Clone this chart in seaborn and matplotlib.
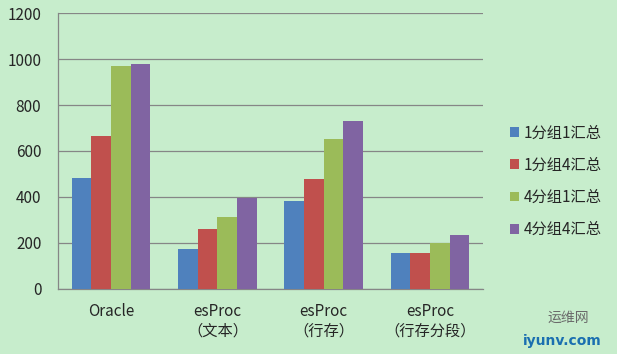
import pandas as pd
import seaborn as sns
from matplotlib import pyplot as plt

# data
categories = ["Oracle", "esProc\n（文本）", "esProc\n（行存）", "esProc\n（行存分段）"]
series = ["1分组1汇总", "1分组4汇总", "4分组1汇总", "4分组4汇总"]
vals_1g1s = [483, 174, 383, 157]
vals_1g4s = [665, 261, 478, 157]
vals_4g1s = [970, 313, 652, 199]
vals_4g4s = [978, 397, 730, 235]

colors = ["#4F81BD", "#C0504D", "#9BBB59", "#8064A2"]
bg = "#C7EDCC"

sns.set_style("white")
plt.rcParams['font.family'] = ['Noto Sans CJK SC', 'DejaVu Sans']

rows = []
for s, v in zip(series, [vals_1g1s, vals_1g4s, vals_4g1s, vals_4g4s]):
  for c, y in zip(categories, v):
    rows.append({"cat": c, "series": s, "value": y})
df = pd.DataFrame(rows)

fig = plt.figure(figsize=(6.17, 3.54), dpi=100, facecolor=bg)
ax = fig.add_axes([0.094, 0.184, 0.689, 0.779])
ax.set_facecolor(bg)

sns.barplot(data=df, x="cat", y="value", hue="series", palette=colors,
            width=0.74, saturation=1, linewidth=0, edgecolor="none",
            ax=ax, zorder=3)

ax.set_ylim(0, 1200)
ax.set_xlim(-0.5, 3.5)
ax.set_yticks(range(0, 1201, 200))
ax.yaxis.grid(True, color="#868686", linewidth=0.9, zorder=0)
ax.set_axisbelow(True)
ax.set(xlabel="", ylabel="")

for side in ["top", "right"]:
  ax.spines[side].set_visible(False)
for side in ["left", "bottom"]:
  ax.spines[side].set_color("#868686")
  ax.spines[side].set_linewidth(0.9)

ax.tick_params(axis="y", length=0, labelsize=11, pad=12)
ax.tick_params(axis="x", length=0, labelsize=11, pad=10)
ax.set_xticks([-0.5, 0.5, 1.5, 2.5, 3.5], minor=True)
ax.tick_params(axis="x", which="minor", length=5, color="#868686", width=0.9)
for t in ax.get_xticklabels():
  t.set_linespacing(1.2)

leg = ax.legend(loc="center left", bbox_to_anchor=(1.03, 0.39), frameon=False,
                fontsize=11, handlelength=0.6, handleheight=0.6,
                handletextpad=0.3, labelspacing=1.0)

# watermark in the bottom right corner
fig.text(0.955, 0.09, "运维网", color="#6a6a6a", fontsize=10, ha="right")
fig.text(0.975, 0.025, "iyunv.com", color="#1a6fb0", fontsize=10,
         fontweight="bold", ha="right", family="DejaVu Sans")

fig.savefig("out.png", dpi=100, facecolor=bg)
